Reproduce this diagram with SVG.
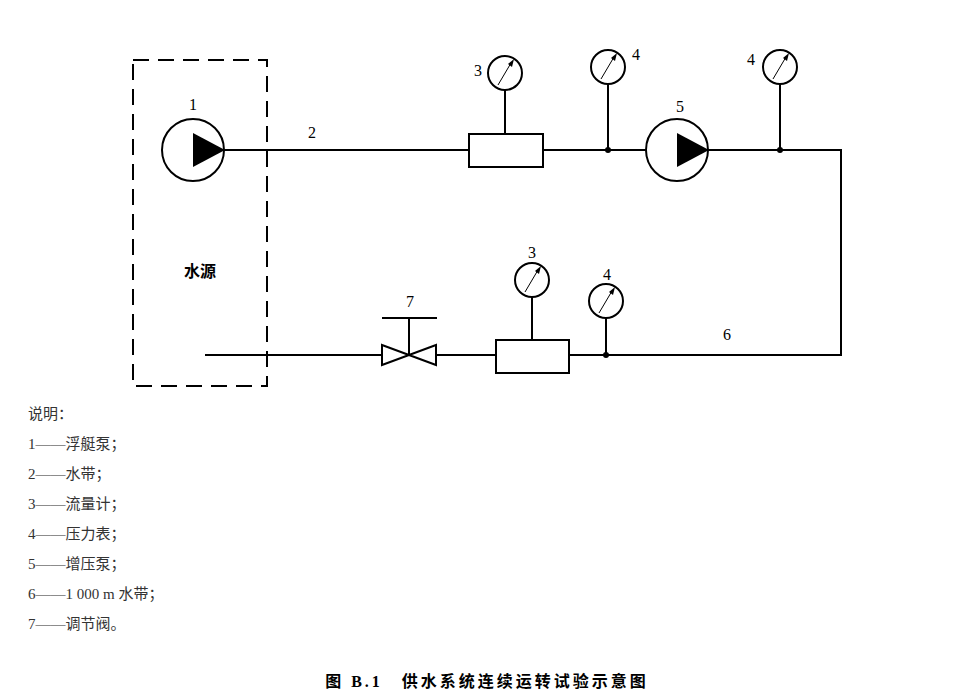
<svg xmlns="http://www.w3.org/2000/svg" width="974" height="697" viewBox="0 0 974 697">
<defs>
<style>
.l{stroke:#000;stroke-width:2;fill:none}
.w{stroke:#000;stroke-width:2;fill:#fff}
.t{font-family:"Liberation Serif","Noto Sans CJK SC",serif;font-size:16px;fill:#000}
.n{font-family:"Liberation Serif",serif;font-size:16px;text-anchor:middle}
.lg{font-family:"Liberation Serif","Noto Sans CJK SC",serif;font-size:15px;fill:#333}
</style>
<g id="gauge"><circle r="17" class="w"/><line x1="-7" y1="12" x2="6" y2="-10" stroke="#000" stroke-width="1"/><polygon points="9,-14 3,-9 7,-6" fill="#000"/></g>
</defs>
<g id="connectors">
<line x1="224" y1="150" x2="469" y2="150" class="l"/>
<line x1="543" y1="150" x2="646" y2="150" class="l"/>
<polyline points="708,150 841,150 841,355 569,355" class="l"/>
<line x1="436" y1="355" x2="496" y2="355" class="l"/>
<line x1="205" y1="355" x2="382" y2="355" class="l"/>
<line x1="505" y1="90" x2="505" y2="134" class="l"/>
<line x1="608" y1="84" x2="608" y2="150" class="l"/>
<line x1="780" y1="84" x2="780" y2="150" class="l"/>
<line x1="532" y1="297" x2="532" y2="340" class="l"/>
<line x1="606" y1="318" x2="606" y2="355" class="l"/>
<circle cx="608" cy="150" r="3"/><circle cx="780" cy="150" r="3"/><circle cx="606" cy="355" r="3"/>
</g>
<g id="source"><rect x="133" y="60" width="134" height="326" fill="none" stroke="#000" stroke-width="2" stroke-dasharray="16,9"/>
<text x="200" y="277" class="t" text-anchor="middle" font-weight="bold">水源</text></g>
<g id="pump1"><circle cx="193" cy="150" r="31" class="w"/><polygon points="193,133 225,150 193,167" fill="#000"/><text x="193" y="110" class="n">1</text></g>
<text x="312" y="138" class="n" id="hose">2</text>
<g id="meter1"><rect x="469" y="134" width="74" height="33" class="w"/><use href="#gauge" x="505" y="73"/><text x="478" y="76" class="n">3</text></g>
<g id="gauge4a"><use href="#gauge" x="608" y="67"/><text x="636" y="60" class="n">4</text></g>
<g id="pump5"><circle cx="677" cy="150" r="31" class="w"/><polygon points="677,133 709,150 677,167" fill="#000"/><text x="680" y="112" class="n">5</text></g>
<g id="gauge4b"><use href="#gauge" x="780" y="67"/><text x="751" y="65" class="n">4</text></g>
<g id="valve"><polygon points="382,345 382,365 436,345 436,365" class="w" stroke-linejoin="miter"/><line x1="409" y1="355" x2="409" y2="318" class="l"/><line x1="382" y1="318" x2="437" y2="318" class="l"/><text x="410" y="307" class="n">7</text></g>
<g id="meter2"><rect x="496" y="340" width="73" height="33" class="w"/><use href="#gauge" x="532" y="280"/><text x="532" y="258" class="n">3</text></g>
<g id="gauge4c"><use href="#gauge" x="606" y="301"/><text x="607" y="280" class="n">4</text></g>
<text x="727" y="340" class="n" id="l6">6</text>
<g id="legend">
<text x="28" y="419" class="lg">说明：</text>
<text x="28" y="449" class="lg">1——浮艇泵；</text>
<text x="28" y="479" class="lg">2——水带；</text>
<text x="28" y="509" class="lg">3——流量计；</text>
<text x="28" y="539" class="lg">4——压力表；</text>
<text x="28" y="569" class="lg">5——增压泵；</text>
<text x="28" y="599" class="lg">6——1 000 m 水带；</text>
<text x="28" y="629" class="lg">7——调节阀。</text>
</g>
<text x="487" y="687" class="t" text-anchor="middle" font-weight="bold" font-size="18" letter-spacing="3">图 B.1　供水系统连续运转试验示意图</text>
</svg>
